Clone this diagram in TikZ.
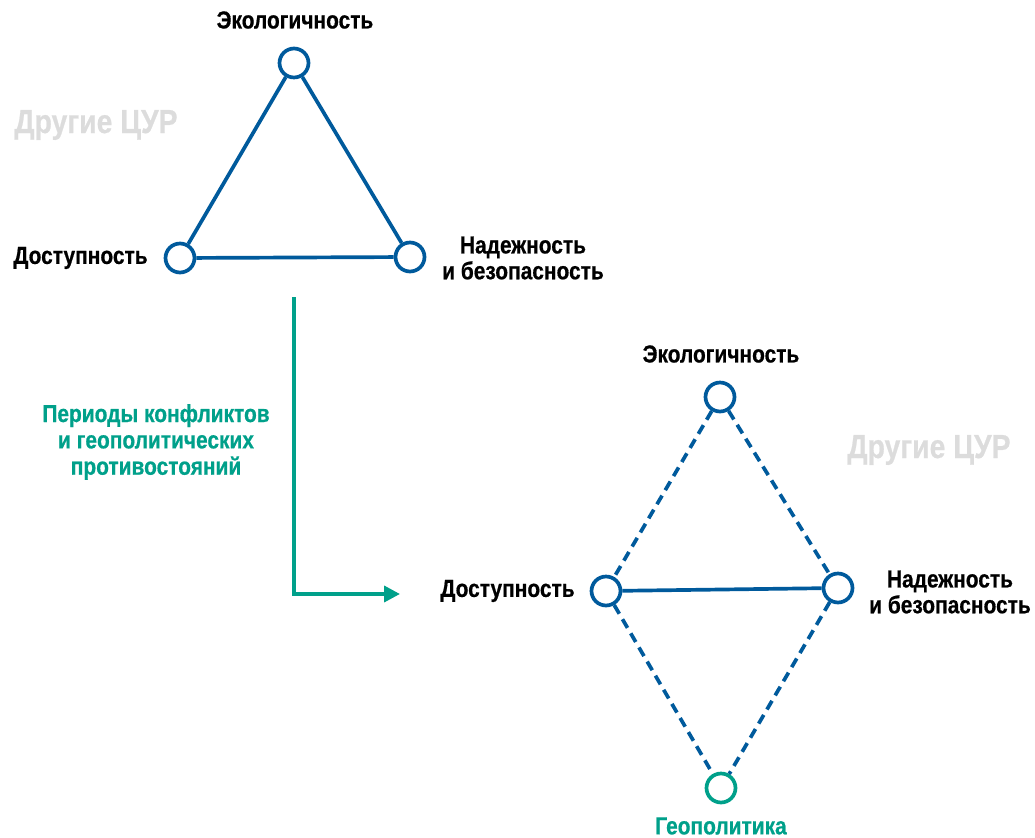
\documentclass[tikz,border=0pt]{standalone}
\usepackage{fontspec}
\setmainfont[FakeStretch=0.85, BoldFeatures={FakeBold=0.6}]{Liberation Sans}
\usetikzlibrary{arrows.meta,positioning}
\definecolor{sdgblue}{RGB}{0,90,156}
\definecolor{sdgteal}{RGB}{0,160,138}
\definecolor{sdggray}{RGB}{220,220,220}
\tikzset{
  pillar/.style={circle, draw=sdgblue, line width=2.1pt, fill=white, minimum size=0.58cm, inner sep=0pt},
  lbl/.style={font=\bfseries\fontsize{14}{14.7}\selectfont, align=center, inner sep=0pt},
  other/.style={font=\bfseries\fontsize{19}{22}\selectfont, text=sdggray, inner sep=0pt},
  tie/.style={draw=sdgblue, line width=2.1pt},
  weak/.style={tie, dash pattern=on 5.7pt off 3.6pt},
  crisisarrow/.style={draw=sdgteal, line width=2.1pt, -{Triangle[length=9pt,width=9pt]}}
}

\begin{document}
\begin{tikzpicture}[x=0.02cm, y=-0.02cm]
    \useasboundingbox (0,0) rectangle (1035,838);

    % Balanced triangle
    \node[pillar] (eco1) at (294,63) {};
    \node[pillar] (acc1) at (180,258) {};
    \node[pillar] (rel1) at (410,257) {};
    \draw[tie] (eco1) -- (acc1);
    \draw[tie] (eco1) -- (rel1);
    \draw[tie] (acc1) -- (rel1);

    \node[lbl] (eco1lbl) at (295,20) {Экологичность};
    \node[lbl, anchor=east] (acc1lbl) at (148,258) {Доступность};
    \node[lbl] (rel1lbl) at (523,258) {Надежность\\и безопасность};
    \node[other] (oth1) at (96,125) {Другие ЦУР};

    % Shift
    \coordinate (from) at (294,297);
    \coordinate (bend) at (294,594);
    \coordinate (to) at (400,594);
    \draw[crisisarrow] (from) -- (bend) -- (to);
    \node[lbl, text=sdgteal, font=\bfseries\fontsize{14}{15}\selectfont] (cause) at (156,442)
        {Периоды конфликтов\\и геополитических\\противостояний};

    % Conflict diamond
    \node[pillar] (eco2) at (720,397) {};
    \node[pillar] (acc2) at (606,591) {};
    \node[pillar] (rel2) at (838,588) {};
    \node[pillar, draw=sdgteal] (geo2) at (721,788) {};
    \draw[weak] (eco2) -- (acc2);
    \draw[weak] (eco2) -- (rel2);
    \draw[tie] (acc2) -- (rel2);
    \draw[weak] (acc2) -- (geo2);
    \draw[weak] (rel2) -- (geo2);

    \node[lbl] (eco2lbl) at (721,354) {Экологичность};
    \node[lbl, anchor=east] (acc2lbl) at (575,591) {Доступность};
    \node[lbl] (rel2lbl) at (950,592) {Надежность\\и безопасность};
    \node[other] (oth2) at (929,450) {Другие ЦУР};
    \node[lbl, text=sdgteal] (geo2lbl) at (721,826) {Геополитика};
\end{tikzpicture}
\end{document}
